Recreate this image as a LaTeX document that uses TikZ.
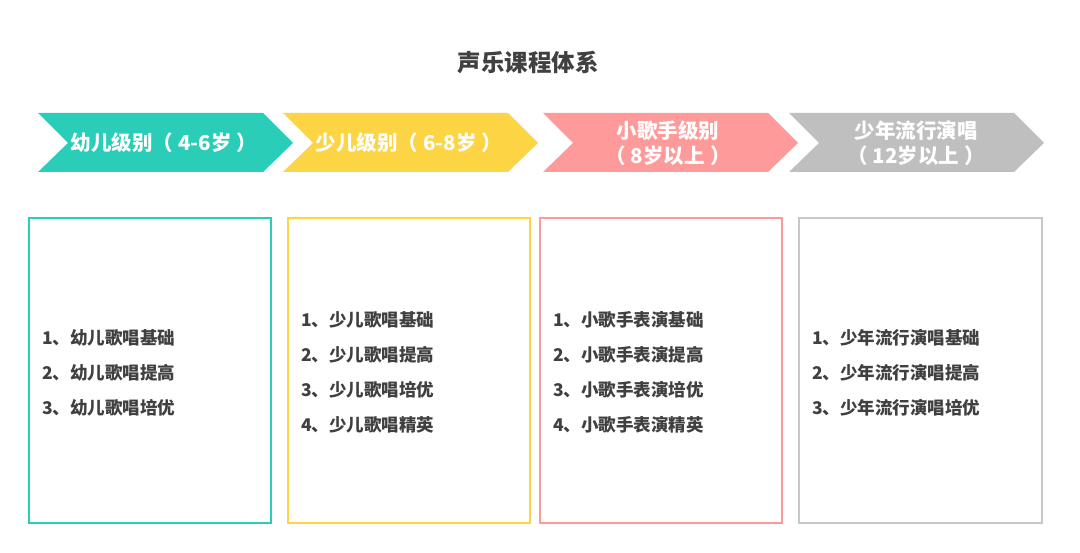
\documentclass[tikz,border=0pt]{standalone}
\usepackage{fontspec}
\newfontfamily\cjk{Noto Sans CJK SC}
\definecolor{cteal}{HTML}{2ACDB8}
\definecolor{cyellow}{HTML}{FCD444}
\definecolor{cpink}{HTML}{FF9A9A}
\definecolor{cgray}{HTML}{BFBFBF}
\definecolor{cgrayb}{HTML}{C8C8C8}
\definecolor{ctext}{HTML}{404040}
\newcommand\ps{\hspace{0.25em}}
\begin{document}
\begin{tikzpicture}[x=1pt,y=-1pt,
  chevlabel/.style={text=white,font=\cjk\bfseries\fontsize{20.5}{25}\selectfont,align=center,inner sep=0pt},
  listitem/.style={text=ctext,font=\cjk\bfseries\fontsize{17.5}{20}\selectfont,anchor=west,inner sep=0pt},
  panel/.style={draw=#1,line width=2pt,fill=white}]
\useasboundingbox (0,0) rectangle (1080,553);
\fill[white] (0,0) rectangle (1080,553);
\node[text=ctext,font=\cjk\bfseries\fontsize{23.5}{28}\selectfont,inner sep=0pt] (title) at (528,63) {声乐课程体系};
% chevrons
\newcommand\chev[2]{\fill[#2] (#1,113) -- (#1+225,113) -- (#1+255,143) -- (#1+225,172) -- (#1,172) -- (#1+30,143) -- cycle;}
\chev{38}{cteal}
\chev{283}{cyellow}
\chev{543}{cpink}
\chev{789}{cgray}
\node[chevlabel] (c1) at (164,143) {幼儿级别（\ps 4-6岁\ps）};
\node[chevlabel] (c2) at (409,143) {少儿级别（\ps 6-8岁\ps）};
\node[chevlabel] (c3) at (668,143) {小歌手级别\\（\ps 8岁以上\ps）};
\node[chevlabel] (c4) at (916,143) {少年流行演唱\\（\ps 12岁以上\ps）};
% panels
\draw[panel=cteal] (29,218) rectangle (271,523);
\draw[panel=cyellow] (288,218) rectangle (530,523);
\draw[panel=cpink] (540,218) rectangle (782,523);
\draw[panel=cgrayb] (799,218) rectangle (1042,523);
% lists
\node[listitem] (a1) at (42,338) {1、幼儿歌唱基础};
\node[listitem] (a2) at (42,373) {2、幼儿歌唱提高};
\node[listitem] (a3) at (42,408) {3、幼儿歌唱培优};
\node[listitem] (b1) at (301,320) {1、少儿歌唱基础};
\node[listitem] (b2) at (301,355) {2、少儿歌唱提高};
\node[listitem] (b3) at (301,390) {3、少儿歌唱培优};
\node[listitem] (b4) at (301,425) {4、少儿歌唱精英};
\node[listitem] (p1) at (553,320) {1、小歌手表演基础};
\node[listitem] (p2) at (553,355) {2、小歌手表演提高};
\node[listitem] (p3) at (553,390) {3、小歌手表演培优};
\node[listitem] (p4) at (553,425) {4、小歌手表演精英};
\node[listitem] (d1) at (812,338) {1、少年流行演唱基础};
\node[listitem] (d2) at (812,373) {2、少年流行演唱提高};
\node[listitem] (d3) at (812,408) {3、少年流行演唱培优};
\end{tikzpicture}
\end{document}
